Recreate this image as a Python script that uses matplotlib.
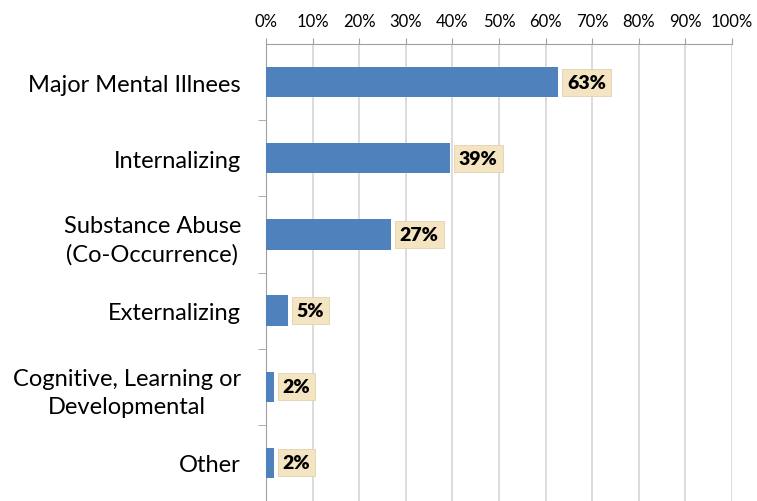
import matplotlib
matplotlib.use("Agg")
from matplotlib import pyplot as plt
import numpy as np

plt.rcParams['font.family'] = ['Lato', 'DejaVu Sans']

categories = ["Major Mental Illnees", "Internalizing", "Substance Abuse\n(Co-Occurrence)",
              "Externalizing", "Cognitive, Learning or\nDevelopmental", "Other"]
values = [62.7, 39.5, 26.8, 4.7, 1.7, 1.7]
labels = ["63%", "39%", "27%", "5%", "2%", "2%"]
xticks = list(range(0, 101, 10))

fig = plt.figure(figsize=(7.57, 5.02), dpi=100)
ax = fig.add_axes([266 / 757, 0, 466 / 757, 457 / 502])

y = np.arange(len(categories))
ax.barh(y, values, height=0.4, color="#4f81bd", zorder=3)
for yi, v, lab in zip(y, values, labels):
    ax.text(v + 1.9, yi, lab, va="center", ha="left", fontsize=14, fontweight="heavy",
            zorder=4, bbox=dict(boxstyle="square,pad=0.26", facecolor="#f4e4c1",
                                edgecolor="#e0d2ae", linewidth=0.6))

ax.set_xlim(0, 100)
ax.set_ylim(len(categories) - 0.5, -0.5)
ax.set_xticks(xticks)
ax.set_xticklabels([f"{t}%" for t in xticks], fontsize=12)
ax.xaxis.tick_top()
ax.tick_params(axis="x", length=4, color="#a0a0a0", pad=7)
ax.grid(axis="x", color="#d6d6d6", linewidth=1.2, zorder=0)

ax.set_yticks(y)
ax.set_yticklabels(categories, fontsize=17, multialignment="center", linespacing=1.4)
ax.set_yticks(np.arange(0.5, len(categories) - 1, 1), minor=True)
ax.tick_params(axis="y", which="major", length=0, pad=18)
ax.tick_params(axis="y", which="minor", length=6, color="#a0a0a0")

for s in ["right", "bottom"]:
    ax.spines[s].set_visible(False)
for s in ["top", "left"]:
    ax.spines[s].set_color("#a0a0a0")

fig.savefig("out.png", dpi=100)
